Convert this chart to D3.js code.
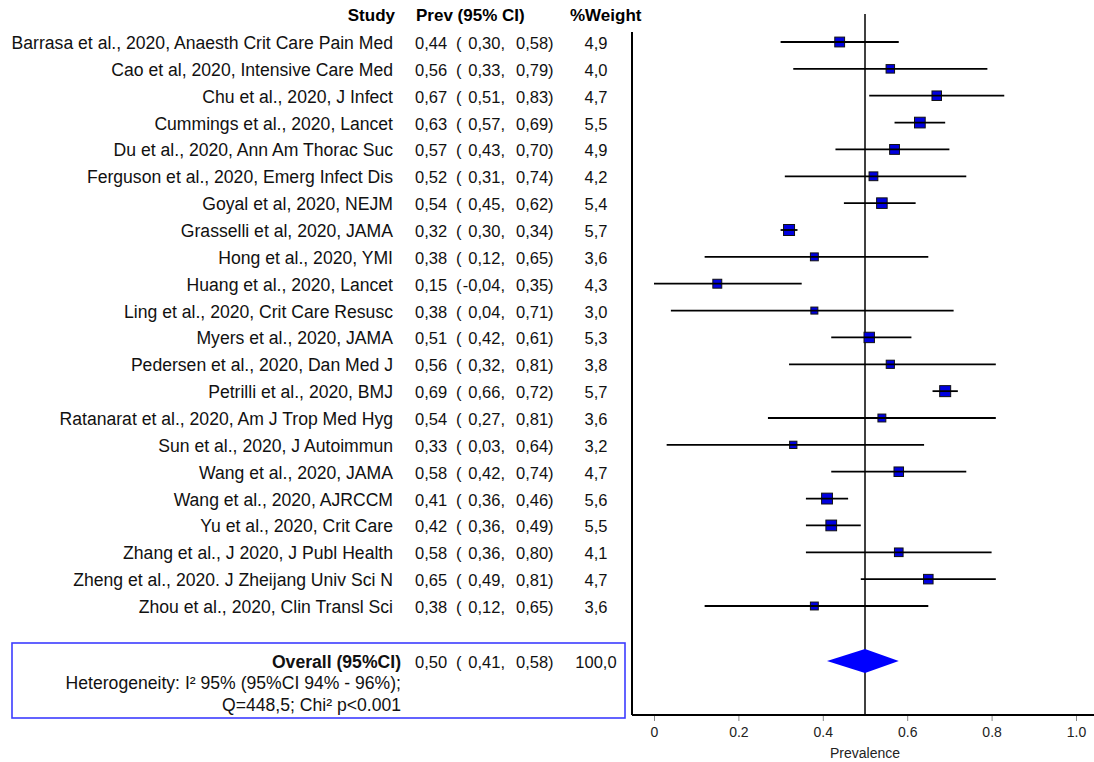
<!DOCTYPE html>
<html>
<head>
<meta charset="utf-8">
<script src="https://cdn.jsdelivr.net/npm/d3@7"></script>
<style>
  body { margin: 0; background: #fff; }
  text { font-family: "Liberation Sans", Arial, sans-serif; white-space: pre; }
</style>
</head>
<body>
<div id="chart"></div>
<script>
var studies = [
  "Barrasa et al., 2020, Anaesth Crit Care Pain Med",
  "Cao et al, 2020, Intensive Care Med",
  "Chu et al., 2020, J Infect",
  "Cummings et al., 2020, Lancet",
  "Du et al., 2020, Ann Am Thorac Suc",
  "Ferguson et al., 2020, Emerg Infect Dis",
  "Goyal et al, 2020, NEJM",
  "Grasselli et al, 2020, JAMA",
  "Hong et al., 2020, YMI",
  "Huang et al., 2020, Lancet",
  "Ling et al., 2020, Crit Care Resusc",
  "Myers et al., 2020, JAMA",
  "Pedersen et al., 2020, Dan Med J",
  "Petrilli et al., 2020, BMJ",
  "Ratanarat et al., 2020, Am J Trop Med Hyg",
  "Sun et al., 2020, J Autoimmun",
  "Wang et al., 2020, JAMA",
  "Wang et al., 2020, AJRCCM",
  "Yu et al., 2020, Crit Care",
  "Zhang et al., J 2020, J Publ Health",
  "Zheng et al., 2020. J Zheijang Univ Sci N",
  "Zhou et al., 2020, Clin Transl Sci"
];
var prev = [0.44, 0.56, 0.67, 0.63, 0.57, 0.52, 0.54, 0.32, 0.38, 0.15, 0.38,
  0.51, 0.56, 0.69, 0.54, 0.33, 0.58, 0.41, 0.42, 0.58, 0.65, 0.38];
var lower = [0.30, 0.33, 0.51, 0.57, 0.43, 0.31, 0.45, 0.30, 0.12, -0.04, 0.04,
  0.42, 0.32, 0.66, 0.27, 0.03, 0.42, 0.36, 0.36, 0.36, 0.49, 0.12];
var upper = [0.58, 0.79, 0.83, 0.69, 0.70, 0.74, 0.62, 0.34, 0.65, 0.35, 0.71,
  0.61, 0.81, 0.72, 0.81, 0.64, 0.74, 0.46, 0.49, 0.80, 0.81, 0.65];
var weight = [4.9, 4.0, 4.7, 5.5, 4.9, 4.2, 5.4, 5.7, 3.6, 4.3, 3.0,
  5.3, 3.8, 5.7, 3.6, 3.2, 4.7, 5.6, 5.5, 4.1, 4.7, 3.6];
var overall = { est: 0.50, lo: 0.41, hi: 0.58, weight: 100.0 };
var tickValues = [0, 0.2, 0.4, 0.6, 0.8, 1.0];

var width = 1094, height = 762;
var svg = d3.select('#chart').append('svg')
  .attr('width', width).attr('height', height);

var data = studies.map(function (s, i) {
  return { study: s, est: prev[i], lo: lower[i], hi: upper[i], w: weight[i], i: i };
});

var x = d3.scaleLinear().domain([0, 1]).range([654, 1076]);
var y = d3.scaleLinear().domain([0, studies.length - 1]).range([42, 606]);
var boxSize = d3.scaleLinear().domain([3, 5.7]).range([7, 11]);
var overallY = 661;
var axisY = 715;
var nameSize = 17.6, numSize = 16.5;

var fmt = function (v) { return d3.format(".2f")(v).replace('.', ',').replace('−', '-'); };
var fmtW = function (v) { return d3.format(".1f")(v).replace('.', ','); };

// number columns for a row
function numCols(g, d) {
  g.append('text').attr('x', 415).text(fmt(d.est));
  g.append('text').attr('x', 456).text('(');
  g.append('text').attr('x', 505).attr('text-anchor', 'end').text(fmt(d.lo) + ',');
  g.append('text').attr('x', 516).text(fmt(d.hi) + ')');
  g.append('text').attr('x', 596).attr('text-anchor', 'middle').text(fmtW(d.w));
}

// header
var header = svg.append('g').attr('font-weight', 'bold').attr('font-size', 17);
header.append('text').attr('x', 395).attr('y', 21).attr('text-anchor', 'end').text('Study');
header.append('text').attr('x', 416).attr('y', 21).text('Prev (95% CI)');
header.append('text').attr('x', 570).attr('y', 21).text('%Weight');

// study rows text
var rows = svg.append('g').attr('fill', '#111')
  .selectAll('g').data(data).join('g')
  .attr('transform', d => 'translate(0,' + (y(d.i) + 7) + ')');
rows.append('text').attr('x', 393).attr('text-anchor', 'end')
  .attr('font-size', nameSize).text(d => d.study);
rows.append('g').attr('font-size', numSize).each(function (d) { numCols(d3.select(this), d); });

// overall box
svg.append('rect').attr('x', 12).attr('y', 643).attr('width', 613).attr('height', 75)
  .attr('fill', 'none').attr('stroke', '#3c3cff').attr('stroke-width', 1.6);
var ov = svg.append('g').attr('fill', '#111');
ov.append('text').attr('x', 401).attr('y', overallY + 7).attr('text-anchor', 'end')
  .attr('font-size', nameSize).attr('font-weight', 'bold').text('Overall (95%CI)');
ov.append('g').attr('font-size', numSize).attr('transform', 'translate(0,' + (overallY + 7) + ')')
  .call(g => numCols(g, { est: overall.est, lo: overall.lo, hi: overall.hi, w: overall.weight }));
ov.append('text').attr('x', 401).attr('y', 689).attr('text-anchor', 'end')
  .attr('font-size', nameSize).text('Heterogeneity: I² 95% (95%CI 94% - 96%);');
ov.append('text').attr('x', 401).attr('y', 711).attr('text-anchor', 'end')
  .attr('font-size', nameSize).text('Q=448,5; Chi² p<0.001');

// plot frame
svg.append('line').attr('x1', 632).attr('x2', 632).attr('y1', 32).attr('y2', axisY)
  .attr('stroke', '#000').attr('stroke-width', 2);
svg.append('line').attr('x1', 632).attr('x2', width).attr('y1', axisY).attr('y2', axisY)
  .attr('stroke', '#000').attr('stroke-width', 2);

// axis
var axis = svg.append('g').attr('transform', 'translate(0,' + (axisY + 1) + ')')
  .call(d3.axisBottom(x).tickValues(tickValues).tickSize(5).tickPadding(6)
    .tickFormat(d => d === 0 ? '0' : d3.format('.1f')(d)));
axis.select('.domain').remove();
axis.selectAll('.tick line').attr('stroke', '#888');
axis.selectAll('.tick text').attr('font-size', 14).attr('fill', '#222')
  .attr('font-family', '"Liberation Sans", Arial, sans-serif');
svg.append('text').attr('x', x(0.5)).attr('y', 758).attr('text-anchor', 'middle')
  .attr('font-size', 14).attr('fill', '#222').text('Prevalence');

// reference line at overall estimate
svg.append('line').attr('x1', x(overall.est)).attr('x2', x(overall.est))
  .attr('y1', 14).attr('y2', axisY).attr('stroke', '#000').attr('stroke-width', 1.5);

// boxes and CI
var marks = svg.append('g').selectAll('g').data(data).join('g');
marks.append('rect')
  .attr('x', d => x(d.est) - boxSize(d.w) / 2)
  .attr('y', d => y(d.i) - boxSize(d.w) / 2)
  .attr('width', d => boxSize(d.w))
  .attr('height', d => boxSize(d.w))
  .attr('fill', '#0000e0').attr('stroke', '#111').attr('stroke-width', 1);
marks.append('line')
  .attr('x1', d => x(Math.max(0, d.lo)))
  .attr('x2', d => x(Math.min(1, d.hi)))
  .attr('y1', d => y(d.i)).attr('y2', d => y(d.i))
  .attr('stroke', '#000').attr('stroke-width', 1.8);

// overall diamond
svg.append('path')
  .attr('d', d3.line()([
    [x(overall.lo), overallY], [x(overall.est), overallY - 12],
    [x(overall.hi), overallY], [x(overall.est), overallY + 12]
  ]) + 'Z')
  .attr('fill', '#0000ff');
</script>
</body>
</html>
